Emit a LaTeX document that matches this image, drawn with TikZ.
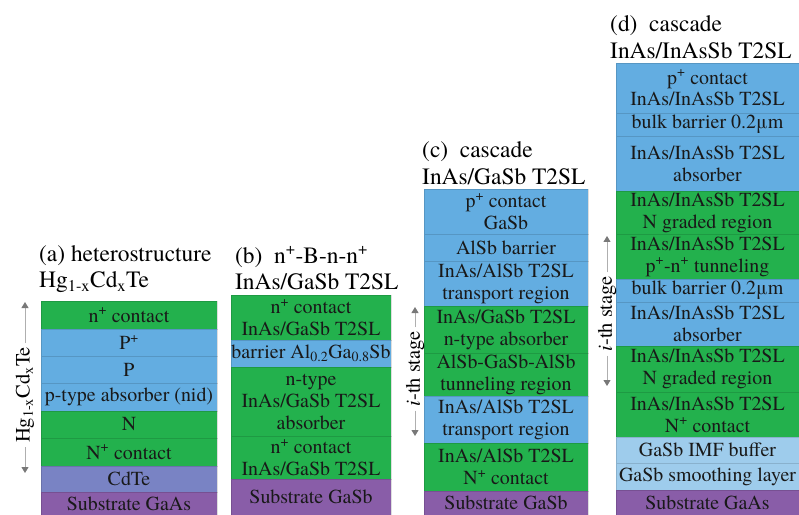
\documentclass[tikz,border=0pt]{standalone}
\usepackage{fontspec}
\setmainfont{TeX Gyre Termes}
\newfontfamily\tms{TeX Gyre Termes}
\usetikzlibrary{arrows.meta}
\definecolor{grn}{RGB}{35,177,77}
\definecolor{blu}{RGB}{99,173,225}
\definecolor{lblu}{RGB}{158,204,236}
\definecolor{cdte}{RGB}{121,131,196}
\definecolor{purp}{RGB}{137,93,168}
\definecolor{arrgray}{RGB}{120,120,120}
\definecolor{linegray}{RGB}{175,175,175}
\begin{document}
\begin{tikzpicture}[x=1bp,y=-1bp,
  layer/.style={draw=black, draw opacity=0.13, line width=0.7bp, inner sep=0pt, outer sep=0pt,
     align=center, font=\tms\fontsize{20}{22}\selectfont, text=black!90},
  ttl/.style={anchor=west, align=left, inner sep=0pt, font=\tms\fontsize{23.5}{26.5}\selectfont},
  stagelbl/.style={rotate=90, inner sep=4bp, font=\tms\fontsize{20.5}{22}\selectfont},
  stagearr/.style={draw=linegray, line width=0.9bp, -{Triangle[width=7bp,length=6bp,color=arrgray]}}
]
\useasboundingbox (0,0) rectangle (799,515);
% ---------- (a)
\tikzset{wa/.style={layer, minimum width=176bp}}
\node[ttl] (ta) at (39,269) {(a) heterostructure\\Hg\textsubscript{1-x}Cd\textsubscript{x}Te};
\node[wa, fill=grn,  minimum height=28bp] (a1) at (129,315)   {n\textsuperscript{+} contact};
\node[wa, fill=blu,  minimum height=27bp] (a2) at (129,342.5) {P\textsuperscript{+}};
\node[wa, fill=blu,  minimum height=27bp] (a3) at (129,369.5) {P};
\node[wa, fill=blu,  minimum height=28bp] (a4) at (129,397)   {p-type absorber (nid)};
\node[wa, fill=grn,  minimum height=27bp] (a5) at (129,424.5) {N};
\node[wa, fill=grn,  minimum height=28bp] (a6) at (129,452)   {N\textsuperscript{+} contact};
\node[wa, fill=cdte, minimum height=26bp] (a7) at (129,479)   {CdTe};
\node[wa, fill=purp, minimum height=23bp] (a8) at (129,503.5) {Substrate GaAs};
\node[stagelbl] (la) at (25,395) {Hg\textsubscript{1-x}Cd\textsubscript{x}Te};
\coordinate (atop) at (25,302);
\coordinate (abot) at (25,473);
\draw[stagearr] (la.east) -- (atop);
\draw[stagearr] (la.west) -- (abot);
% ---------- (b)
\tikzset{wb/.style={layer, minimum width=160bp}}
\node[ttl] (tb) at (235,268) {(b)~~n\textsuperscript{+}-B-n-n\textsuperscript{+}\\InAs/GaSb T2SL};
\node[wb, fill=grn,  minimum height=45bp] (b1) at (311,317.5) {n\textsuperscript{+} contact\\InAs/GaSb T2SL};
\node[wb, fill=blu,  minimum height=27bp] (b2) at (311,353.5) {barrier Al\textsubscript{0.2}Ga\textsubscript{0.8}Sb};
\node[wb, fill=grn,  minimum height=69bp] (b3) at (311,401.5) {n-type\\InAs/GaSb T2SL\\absorber};
\node[wb, fill=grn,  minimum height=43bp] (b4) at (311,457.5) {n\textsuperscript{+} contact\\InAs/GaSb T2SL};
\node[wb, fill=purp, minimum height=36bp] (b5) at (311,497)   {Substrate GaSb};
% ---------- (c)
\tikzset{wc/.style={layer, minimum width=164bp}}
\node[ttl] (tc) at (422,163) {(c)~~cascade\\InAs/GaSb T2SL};
\node[wc, fill=blu,  minimum height=45bp] (c1) at (506,211.5) {p\textsuperscript{+} contact\\GaSb};
\node[wc, fill=blu,  minimum height=27bp] (c2) at (506,247.5) {AlSb barrier};
\node[wc, fill=blu,  minimum height=45bp] (c3) at (506,283.5) {InAs/AlSb T2SL\\transport region};
\node[wc, fill=grn,  minimum height=47bp] (c4) at (506,329.5) {InAs/GaSb T2SL\\n-type absorber};
\node[wc, fill=grn,  minimum height=43bp] (c5) at (506,374.5) {AlSb-GaSb-AlSb\\tunneling region};
\node[wc, fill=blu,  minimum height=47bp] (c6) at (506,419.5) {InAs/AlSb T2SL\\transport region};
\node[wc, fill=grn,  minimum height=48bp] (c7) at (506,467)   {InAs/AlSb T2SL\\N\textsuperscript{+} contact};
\node[wc, fill=purp, minimum height=24bp] (c8) at (506,503)   {Substrate GaSb};
\node[stagelbl] (lc) at (415,369) {\textit{i}-th stage};
\coordinate (ctop) at (415,307);
\coordinate (cbot) at (415,436);
\draw[stagearr] (lc.east) -- (ctop);
\draw[stagearr] (lc.west) -- (cbot);
% ---------- (d)
\tikzset{wd/.style={layer, minimum width=183bp}}
\node[ttl] (td) at (610,37) {(d)~~cascade\\InAs/InAsSb T2SL};
\node[wd, fill=blu,  minimum height=50bp] (d1)  at (707.5,88)    {p\textsuperscript{+} contact\\InAs/InAsSb T2SL};
\node[wd, fill=blu,  minimum height=23bp] (d2)  at (707.5,124.5) {bulk barrier 0.2μm};
\node[wd, fill=blu,  minimum height=55bp] (d3)  at (707.5,163.5) {InAs/InAsSb T2SL\\absorber};
\node[wd, fill=grn,  minimum height=43bp] (d4)  at (707.5,212.5) {InAs/InAsSb T2SL\\N graded region};
\node[wd, fill=grn,  minimum height=45bp] (d5)  at (707.5,256.5) {InAs/InAsSb T2SL\\p\textsuperscript{+}-n\textsuperscript{+} tunneling};
\node[wd, fill=blu,  minimum height=23bp] (d6)  at (707.5,290.5) {bulk barrier 0.2μm};
\node[wd, fill=blu,  minimum height=44bp] (d7)  at (707.5,324)   {InAs/InAsSb T2SL\\absorber};
\node[wd, fill=grn,  minimum height=46bp] (d8)  at (707.5,369)   {InAs/InAsSb T2SL\\N graded region};
\node[wd, fill=grn,  minimum height=45bp] (d9)  at (707.5,414.5) {InAs/InAsSb T2SL\\N\textsuperscript{+} contact};
\node[wd, fill=lblu, minimum height=26bp] (d10) at (707.5,450)   {GaSb IMF buffer};
\node[wd, fill=lblu, minimum height=27bp] (d11) at (707.5,476.5) {GaSb smoothing layer};
\node[wd, fill=purp, minimum height=25bp] (d12) at (707.5,502.5) {Substrate GaAs};
\node[stagelbl] (ld) at (607,314) {\textit{i}-th stage};
\coordinate (dtop) at (607,236);
\coordinate (dbot) at (607,386);
\draw[stagearr] (ld.east) -- (dtop);
\draw[stagearr] (ld.west) -- (dbot);
\end{tikzpicture}
\end{document}
